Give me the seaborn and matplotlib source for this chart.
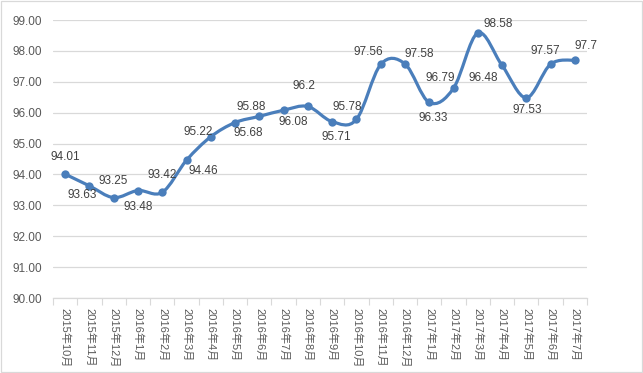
import numpy as np
import pandas as pd
import seaborn as sns
from matplotlib import pyplot as plt
from matplotlib.path import Path
from matplotlib.patches import PathPatch, Rectangle

months = ['2015年10月', '2015年11月', '2015年12月', '2016年1月', '2016年2月', '2016年3月',
          '2016年4月', '2016年5月', '2016年6月', '2016年7月', '2016年8月', '2016年9月',
          '2016年10月', '2016年11月', '2016年12月', '2017年1月', '2017年2月', '2017年3月',
          '2017年4月', '2017年5月', '2017年6月', '2017年7月']
values = [94.01, 93.63, 93.25, 93.48, 93.42, 94.46, 95.22, 95.68, 95.88, 96.08, 96.2,
          95.71, 95.78, 97.56, 97.58, 96.33, 96.79, 98.58, 97.53, 96.48, 97.57, 97.7]
# data labels as they appear on the chart
label_text = ['94.01', '93.63', '93.25', '93.48', '93.42', '94.46', '95.22', '95.68', '95.88',
              '96.08', '96.2', '95.71', '95.78', '97.56', '97.58', '96.33', '96.79', '98.58',
              '96.48', '97.53', '97.57', '97.7']
# label offsets in pixels (dx, dy)
label_offsets = [(0, 17), (-7, -9), (0, 17), (0, -16), (0, 17), (17, -11), (-13, 5), (13, -10),
                 (-8, 9), (10, -12), (-4, 20), (4, -15), (-9, 12), (-12, 12), (14, 10),
                 (4, -16), (-13, 10), (20, 9), (-19, -13), (1, -12), (-5, 13), (11, 14)]

sns.set_theme(style='white')
plt.rcParams['font.family'] = ['Liberation Sans', 'Noto Sans CJK SC']

df = pd.DataFrame({'pos': np.arange(len(months)), 'value': values})

W, H = 643, 373
fig = plt.figure(figsize=(W / 100, H / 100), dpi=100)
ax = fig.add_axes([53 / W, (H - 298) / H, 534 / W, 278 / H])

line_color = '#4A7EBB'

# smoothed line (Catmull-Rom style bezier, like a spreadsheet "smooth line")
pts = df[['pos', 'value']].to_numpy()
ext = np.vstack([pts[0], pts, pts[-1]])
verts = [pts[0]]
codes = [Path.MOVETO]
for i in range(1, len(ext) - 2):
    p0, p1, p2, p3 = ext[i - 1], ext[i], ext[i + 1], ext[i + 2]
    verts += [p1 + (p2 - p0) / 6, p2 - (p3 - p1) / 6, p2]
    codes += [Path.CURVE4] * 3
ax.add_patch(PathPatch(Path(verts, codes), facecolor='none', edgecolor=line_color,
                       lw=2.3, capstyle='round', joinstyle='round', zorder=3))

sns.scatterplot(data=df, x='pos', y='value', ax=ax, color=line_color, s=36,
                edgecolor=line_color, linewidth=0, zorder=4)

for i, (txt, (dx, dy)) in enumerate(zip(label_text, label_offsets)):
    ax.annotate(txt, (df['pos'][i], df['value'][i]), xytext=(dx * 0.72, dy * 0.72),
                textcoords='offset points', ha='center', va='center',
                fontsize=8.5, color='#404040', zorder=5)

ax.set_xlim(-0.5, len(months) - 0.5)
ax.set_ylim(90, 99)
ax.set_yticks(np.arange(90, 100, 1))
ax.set_yticklabels([f'{v:.2f}' for v in np.arange(90, 100, 1)], fontsize=8.5, color='#595959')
ax.set_xticks(df['pos'])
ax.set_xticklabels(months, rotation=270, fontsize=8, color='#595959', va='top', ha='center')
ax.set_xticks(np.arange(-0.5, len(months), 1), minor=True)
ax.tick_params(axis='x', which='major', length=0, pad=7)
ax.tick_params(axis='x', which='minor', length=5, color='#D9D9D9', width=0.8, direction='out')
ax.tick_params(axis='y', length=0, pad=8)
ax.xaxis.set_ticks_position('bottom')
ax.grid(axis='y', color='#D9D9D9', lw=0.9)
ax.set_axisbelow(True)
for s in ['top', 'right', 'left']:
    ax.spines[s].set_visible(False)
ax.spines['bottom'].set_color('#D9D9D9')
ax.spines['bottom'].set_linewidth(0.9)
ax.set_xlabel('')
ax.set_ylabel('')

fig.patches.append(Rectangle((1 / W, 1 / H), (W - 2) / W, (H - 2) / H, transform=fig.transFigure,
                             fill=False, edgecolor='#D9D9D9', lw=0.9))

fig.savefig('out.png', dpi=100)
